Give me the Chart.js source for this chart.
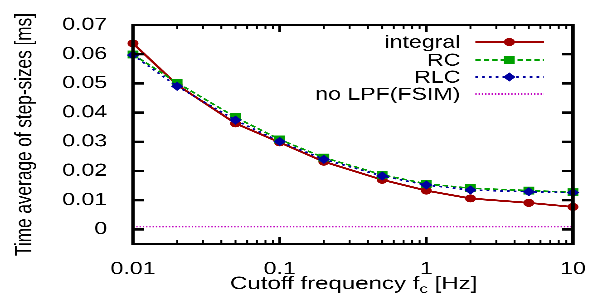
<!DOCTYPE html>
<html>
<head>
<meta charset="utf-8">
<script src="https://cdn.jsdelivr.net/npm/chart.js@4/dist/chart.umd.min.js"></script>
<style>
  html, body { margin: 0; padding: 0; background: #fff; overflow: hidden; }
  #wrap { width: 439px; height: 295px; transform: scaleX(1.36); transform-origin: 0 0; }
</style>
</head>
<body>
<div id="wrap"><canvas id="c" width="439" height="295"></canvas></div>
<script>
// ---- data ----
const freqs = [0.01, 0.02, 0.05, 0.1, 0.2, 0.5, 1, 2, 5, 10];
const integralVals = [0.0637, 0.0495, 0.0363, 0.0298, 0.0232, 0.0170, 0.0133, 0.0106, 0.0091, 0.0077];
const rcVals       = [0.0599, 0.0502, 0.0384, 0.0308, 0.0246, 0.0187, 0.0156, 0.0141, 0.0133, 0.0127];
const rlcVals      = [0.0597, 0.0490, 0.0374, 0.0301, 0.0240, 0.0183, 0.0152, 0.0135, 0.0129, 0.0126];
const noLpfVals    = [0.0009, 0.0009, 0.0009, 0.0009, 0.0009, 0.0009, 0.0009, 0.0009, 0.0009, 0.0009];
const seriesNames  = ['integral', 'RC', 'RLC', 'no LPF(FSIM)'];
const xTickVals = [0.01, 0.1, 1, 10];
const yTickVals = [0, 0.01, 0.02, 0.03, 0.04, 0.05, 0.06, 0.07];
const xTitle = ['Cutoff frequency f', 'c', ' [Hz]'];
const yTitle = 'Time average of step-sizes [ms]';

const FONT = 'Liberation Sans, Arial, Helvetica, sans-serif';
const pts = vals => freqs.map((f, i) => ({x: f, y: vals[i]}));

const styles = [
  {color: '#a00000', dash: [], style: 'circle', r: 4, w: 1.9},
  {color: '#00a000', dash: [4, 2.2], style: 'rect', r: 5.6, w: 1.6},
  {color: '#0000a0', dash: [2, 3], style: 'rectRot', r: 4.6, w: 1.6},
  {color: '#c000c0', dash: [1, 1.4], style: false, r: 0, w: 1.3}
];
const valsList = [integralVals, rcVals, rlcVals, noLpfVals];

const datasets = valsList.map((v, i) => ({
  label: seriesNames[i],
  data: pts(v),
  borderColor: styles[i].color,
  backgroundColor: styles[i].color,
  borderWidth: styles[i].w,
  borderDash: styles[i].dash,
  pointStyle: styles[i].style,
  pointRadius: styles[i].r,
  pointBorderWidth: 0,
  pointBackgroundColor: styles[i].color,
  tension: 0,
  clip: false,
  order: 10 - i
}));

function drawMarker(ctx, style, x, y, r, color) {
  ctx.save();
  ctx.fillStyle = color;
  ctx.beginPath();
  if (style === 'circle') { ctx.arc(x, y, r, 0, Math.PI * 2); }
  else if (style === 'rect') { const s = r * Math.SQRT1_2; ctx.rect(x - s, y - s, 2 * s, 2 * s); }
  else if (style === 'rectRot') { ctx.moveTo(x, y - r); ctx.lineTo(x + r, y); ctx.lineTo(x, y + r); ctx.lineTo(x - r, y); ctx.closePath(); }
  ctx.fill();
  ctx.restore();
}

const framePlugin = {
  id: 'frame',
  afterDraw(chart) {
    const {ctx, chartArea: a} = chart;
    const xs = chart.scales.x, ys = chart.scales.y;
    ctx.save();
    ctx.strokeStyle = '#000';
    ctx.lineCap = 'butt';
    // y ticks (major) left & right
    ctx.lineWidth = 2.4;
    yTickVals.forEach(v => {
      const y = ys.getPixelForValue(v);
      ctx.beginPath();
      ctx.moveTo(a.left, y); ctx.lineTo(a.left + 8, y);
      ctx.moveTo(a.right, y); ctx.lineTo(a.right - 8, y);
      ctx.stroke();
    });
    // x ticks major
    ctx.lineWidth = 2;
    xTickVals.forEach(v => {
      const x = xs.getPixelForValue(v);
      ctx.beginPath();
      ctx.moveTo(x, a.bottom); ctx.lineTo(x, a.bottom - 7);
      ctx.moveTo(x, a.top); ctx.lineTo(x, a.top + 7);
      ctx.stroke();
    });
    // x minor ticks
    ctx.lineWidth = 1.4;
    for (let d = 0; d < xTickVals.length - 1; d++) {
      for (let m = 2; m <= 9; m++) {
        const x = xs.getPixelForValue(xTickVals[d] * m);
        ctx.beginPath();
        ctx.moveTo(x, a.bottom); ctx.lineTo(x, a.bottom - 4);
        ctx.moveTo(x, a.top); ctx.lineTo(x, a.top + 4);
        ctx.stroke();
      }
    }
    // border
    ctx.lineWidth = 2.6;
    ctx.strokeRect(a.left, a.top, a.right - a.left, a.bottom - a.top);

    // legend
    ctx.font = '17px ' + FONT;
    ctx.textAlign = 'right';
    ctx.textBaseline = 'middle';
    ctx.fillStyle = '#000';
    const legY = [42, 60, 77, 94];
    const tx = 338.5, l0 = 349.5, l1 = 400, mx = 374.5;
    chart.data.datasets.forEach((ds, i) => {
      const y = legY[i];
      ctx.fillText(ds.label, tx, y + 1);
      ctx.save();
      ctx.strokeStyle = ds.borderColor;
      ctx.lineWidth = ds.borderWidth;
      ctx.setLineDash(ds.borderDash);
      ctx.beginPath(); ctx.moveTo(l0, y); ctx.lineTo(l1, y); ctx.stroke();
      ctx.restore();
      if (ds.pointStyle) drawMarker(ctx, ds.pointStyle, mx, y, ds.pointRadius, ds.pointBackgroundColor);
    });

    // x title with subscript
    ctx.textAlign = 'left';
    ctx.textBaseline = 'alphabetic';
    const f = '17.7px ' + FONT, fs = '12.5px ' + FONT;
    ctx.font = f; const w0 = ctx.measureText(xTitle[0]).width, w2 = ctx.measureText(xTitle[2]).width;
    ctx.font = fs; const w1 = ctx.measureText(xTitle[1]).width;
    const total = w0 + w1 + w2;
    let x0 = (a.left + a.right) / 2 - total / 2 + 0.5;
    const base = 289;
    ctx.font = f; ctx.fillText(xTitle[0], x0, base);
    ctx.font = fs; ctx.fillText(xTitle[1], x0 + w0, base + 4);
    ctx.font = f; ctx.fillText(xTitle[2], x0 + w0 + w1, base);
    ctx.restore();
  }
};

new Chart(document.getElementById('c'), {
  type: 'line',
  data: { datasets },
  options: {
    responsive: false,
    animation: false,
    devicePixelRatio: 3,
    layout: { padding: { top: 25, right: 17.7, bottom: 0, left: 0 } },
    plugins: { legend: { display: false }, tooltip: { enabled: false } },
    scales: {
      x: {
        type: 'logarithmic',
        min: 0.01, max: 10,
        grid: { display: false },
        border: { display: false },
        afterBuildTicks: s => { s.ticks = xTickVals.map(v => ({value: v})); },
        afterFit: s => { s.height = 51; },
        ticks: {
          autoSkip: false, maxRotation: 0, padding: 7, color: '#000',
          font: { family: FONT, size: 17 },
          callback: v => String(v)
        }
      },
      y: {
        min: -0.005, max: 0.07,
        grid: { display: false },
        border: { display: false },
        afterBuildTicks: s => { s.ticks = yTickVals.map(v => ({value: v})); },
        afterFit: s => { s.width = 97.8; },
        title: { display: true, text: yTitle, color: '#000', font: { family: FONT, size: 17.2 }, padding: { top: 8, bottom: 0 } },
        ticks: {
          autoSkip: false, padding: 11, color: '#000',
          font: { family: FONT, size: 17 },
          callback: v => v === 0 ? '0' : v.toFixed(2)
        }
      }
    }
  },
  plugins: [framePlugin]
});
</script>
</body>
</html>
